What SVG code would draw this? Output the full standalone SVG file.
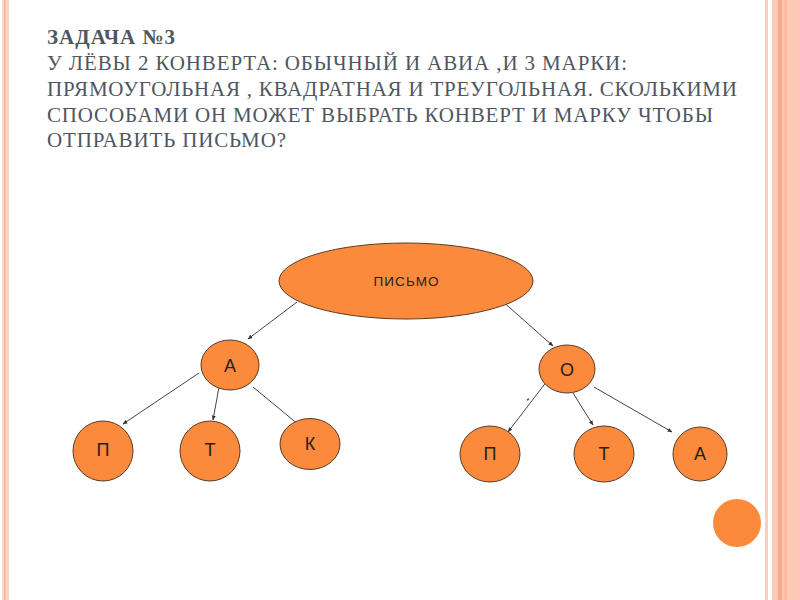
<svg xmlns="http://www.w3.org/2000/svg" width="800" height="600" viewBox="0 0 800 600">
<defs>
<style>
.title{font-family:"Liberation Serif","Times New Roman",serif;font-size:21px;fill:#4f5660;}
.node{fill:#fb8a3c;stroke:#5a3a22;stroke-width:1;}
.lbl{font-family:"Liberation Sans",Arial,sans-serif;font-size:18px;fill:#222;text-anchor:middle;}
.lbl.small{font-size:13.5px;}
.edge{stroke:#444;stroke-width:1;fill:none;marker-end:url(#ah);}
</style>
<marker id="ah" viewBox="0 0 10 10" refX="9" refY="5" markerWidth="5" markerHeight="5" orient="auto" markerUnits="userSpaceOnUse">
<path d="M0,1 L10,5 L0,9 Z" fill="#333"/>
</marker>
</defs>
<rect width="800" height="600" fill="#fff"/>
<g id="border">
<rect x="2" y="0" width="7" height="600" fill="#fcd3c4"/>
<rect x="4" y="0" width="1.5" height="600" fill="#f8b49b"/>
<rect x="765" y="0" width="3" height="600" fill="#fbcdbd"/>
<rect x="772" y="0" width="28" height="600" fill="#fdc9b5"/>
<rect x="778" y="0" width="4" height="600" fill="#f6ab8c"/>
<rect x="784" y="0" width="3" height="600" fill="#f9bba2"/>
</g>
<g id="title">
<text class="title" x="47" y="44" font-weight="bold" textLength="128" lengthAdjust="spacing">ЗАДАЧА №3</text>
<text class="title" x="47" y="70" textLength="580" lengthAdjust="spacing">У ЛЁВЫ 2 КОНВЕРТА: ОБЫЧНЫЙ И АВИА ,И 3 МАРКИ:</text>
<text class="title" x="47" y="96" textLength="690" lengthAdjust="spacing">ПРЯМОУГОЛЬНАЯ , КВАДРАТНАЯ И ТРЕУГОЛЬНАЯ. СКОЛЬКИМИ</text>
<text class="title" x="47" y="122" textLength="666" lengthAdjust="spacing">СПОСОБАМИ ОН МОЖЕТ ВЫБРАТЬ КОНВЕРТ И МАРКУ ЧТОБЫ</text>
<text class="title" x="47" y="147" textLength="239" lengthAdjust="spacing">ОТПРАВИТЬ ПИСЬМО?</text>
</g>
<g id="connectors">
<line class="edge" x1="297" y1="302" x2="248" y2="339"/>
<line class="edge" x1="501" y1="300" x2="553" y2="346"/>
<line class="edge" x1="199" y1="373" x2="123" y2="424"/>
<line class="edge" x1="219" y1="387" x2="213" y2="420"/>
<line class="edge" x1="253" y1="387" x2="299" y2="425"/>
<line class="edge" x1="547" y1="381" x2="508" y2="432"/>
<line class="edge" x1="573" y1="393" x2="593" y2="425"/>
<line class="edge" x1="594" y1="387" x2="672" y2="432"/>
<path d="M527,400 l2,-1" stroke="#555" stroke-width="1.5"/>
</g>
<g id="n-pismo"><ellipse class="node" cx="406" cy="281" rx="127" ry="38"/><text class="lbl small" x="406" y="286" textLength="65" lengthAdjust="spacing">ПИСЬМО</text></g>
<g id="n-a"><ellipse class="node" cx="230" cy="365" rx="29" ry="25"/><text class="lbl" x="230" y="372">А</text></g>
<g id="n-o"><ellipse class="node" cx="567" cy="369" rx="28" ry="24"/><text class="lbl" x="567" y="376">О</text></g>
<g id="n-a-p"><ellipse class="node" cx="103" cy="451" rx="30" ry="30"/><text class="lbl" x="103" y="456">П</text></g>
<g id="n-a-t"><ellipse class="node" cx="210" cy="451" rx="30" ry="30"/><text class="lbl" x="210" y="456">Т</text></g>
<g id="n-a-k"><ellipse class="node" cx="310" cy="444" rx="30" ry="25.5"/><text class="lbl" x="310" y="450">К</text></g>
<g id="n-o-p"><ellipse class="node" cx="490" cy="454" rx="30" ry="28"/><text class="lbl" x="490" y="460">П</text></g>
<g id="n-o-t"><ellipse class="node" cx="604" cy="454" rx="30" ry="28"/><text class="lbl" x="604" y="460">Т</text></g>
<g id="n-o-a"><ellipse class="node" cx="700" cy="454" rx="27" ry="27"/><text class="lbl" x="700" y="460">А</text></g>
<g id="dot"><circle cx="737" cy="523" r="24" fill="#fd8a3a"/></g>
</svg>
